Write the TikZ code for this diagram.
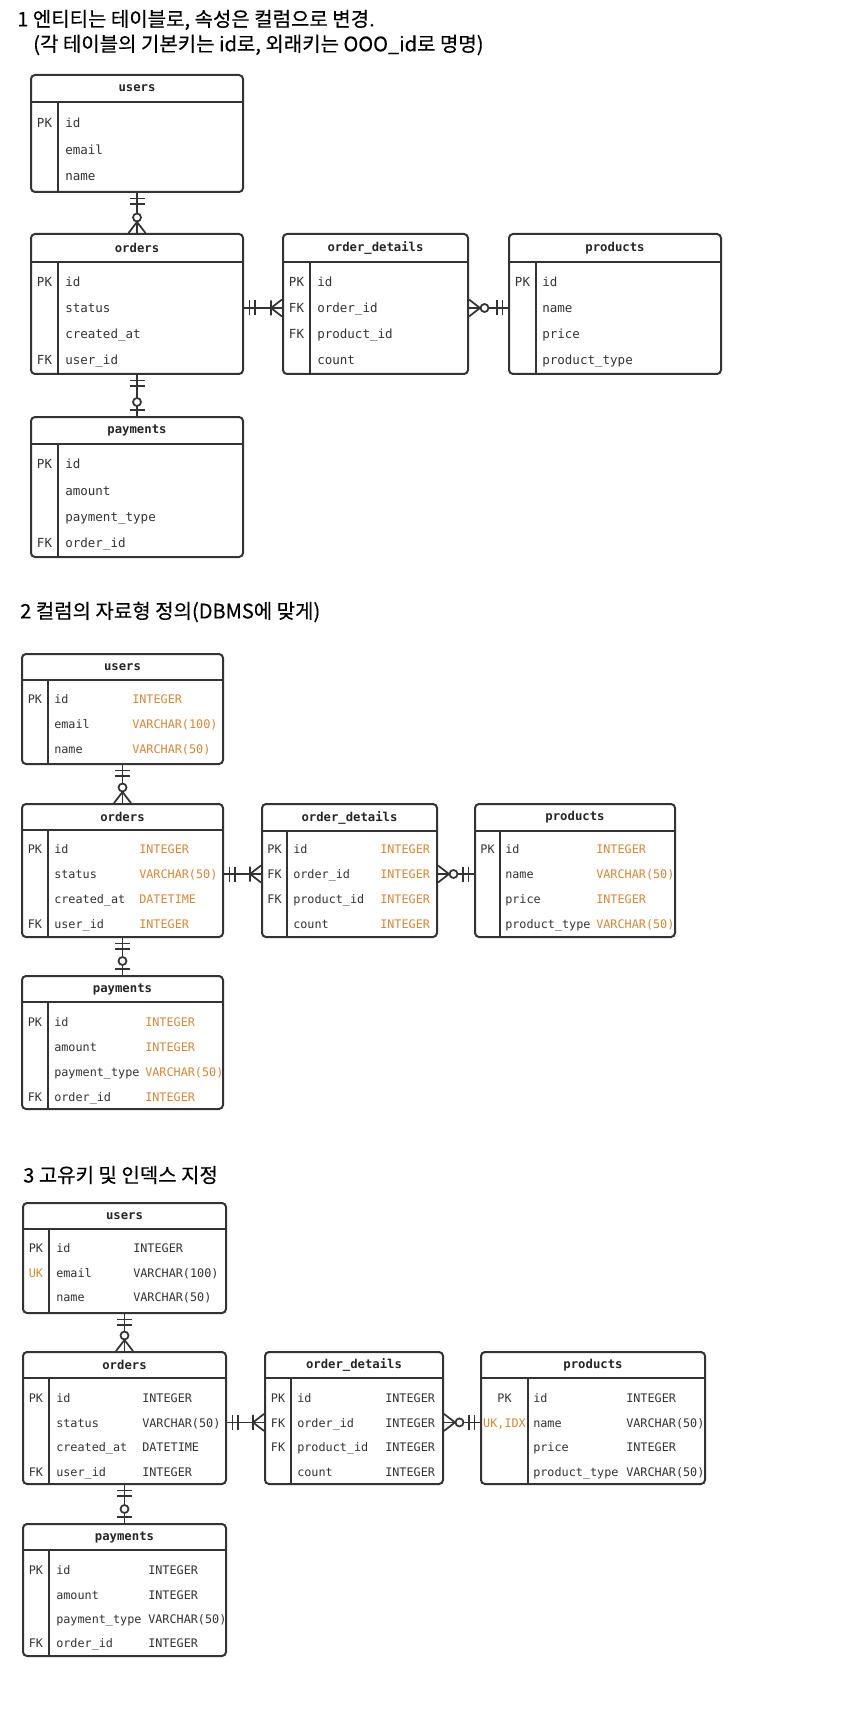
\documentclass[tikz,border=0pt]{standalone}
\usepackage{fontspec}
\setmonofont{DejaVu Sans Mono}
\newfontfamily\kofont[FakeBold=0.3]{Noto Sans CJK KR}
\usepackage{tikz}
\usetikzlibrary{fit}
\usetikzlibrary{decorations.markings}
\definecolor{linec}{HTML}{333333}
\definecolor{typc}{HTML}{D4883A}

\newcommand{\erbox}[8]{%
  \node[tbl, fit={(#2,#3) (#4,#5)}] (#1) {};
  \draw[tblline] (#2,#6) -- (#4,#6);
  \draw[tblline] (#7,#6) -- (#7,#5);
  \node[head] (#1-h) at ({(#2+#4)/2},{(#3+#6)/2}) {#8};
}
\newcommand{\mkone}{\draw[mk] (5.5,-7.5) -- (5.5,7.5) (11,-7.5) -- (11,7.5);}
\newcommand{\mkzeromany}{\draw[mk] (0,-8.5) -- (11,0) -- (0,8.5); \draw[mk, fill=white] (15.5,0) circle[radius=4];}
\newcommand{\mkonemany}{\draw[mk] (0,-8.5) -- (11,0) -- (0,8.5) (11,-7.5) -- (11,7.5);}
\newcommand{\mkzeroone}{\draw[mk] (6,-7.5) -- (6,7.5); \draw[mk, fill=white] (14,0) circle[radius=4];}

\begin{document}
\begin{tikzpicture}[x=0.75pt, y=-0.75pt,
        title/.style={anchor=west, inner sep=0, text=black, font=\kofont\fontsize{15}{18}\selectfont},
        tbl/.style={draw=linec, line width=1.5pt, rounded corners=3pt, inner sep=0},
        tblline/.style={draw=linec, line width=1.5pt},
        head/.style={inner sep=0, text=black!85, font=\ttfamily\bfseries\fontsize{9.2}{10}\selectfont},
        cell/.style={anchor=west, inner sep=0, text height=0.72em, text depth=0pt, text=linec, font=\ttfamily\fontsize{8.85}{10}\selectfont},
        big/.style={font=\ttfamily\fontsize{9.4}{11}\selectfont},
        key/.style={cell, anchor=center},
        typ/.style={cell, text=typc},
        mk/.style={draw=linec, line width=1.3pt},
        rel/.style 2 args={draw=linec, line width=1.3pt, postaction={decorate, decoration={markings,
            mark=at position 0 with {#1},
            mark=at position 1 with {\begin{scope}[xscale=-1]#2\end{scope}}}}}
    ]
    \useasboundingbox[fill=white] (0,0) rectangle (851,1722);

    % 1
    \node[title] (t1a) at (17,20) {1 엔티티는 테이블로, 속성은 컬럼으로 변경.};
    \node[title] (t1b) at (33,45) {(각 테이블의 기본키는 id로, 외래키는 OOO\_id로 명명)};

    \erbox{u1}{31}{75}{243}{192}{102}{58}{users}
    \foreach \k/\n [count=\i from 0] in {PK/id, /email, /name} {
        \node[key, big] (u1k\i) at (44.5,123+26.5*\i) {\k};
        \node[cell, big] (u1n\i) at (65,123+26.5*\i) {\n};
    }
    \erbox{o1}{31}{234}{243}{374}{262}{58}{orders}
    \foreach \k/\n [count=\i from 0] in {PK/id, /status, /created\_at, FK/user\_id} {
        \node[key, big] (o1k\i) at (44.5,282+26*\i) {\k};
        \node[cell, big] (o1n\i) at (65,282+26*\i) {\n};
    }
    \erbox{d1}{283}{234}{468}{374}{262}{310}{order\_details}
    \foreach \k/\n [count=\i from 0] in {PK/id, FK/order\_id, FK/product\_id, /count} {
        \node[key, big] (d1k\i) at (296.5,282+26*\i) {\k};
        \node[cell, big] (d1n\i) at (317,282+26*\i) {\n};
    }
    \erbox{p1}{509}{234}{721}{374}{262}{536}{products}
    \foreach \k/\n [count=\i from 0] in {PK/id, /name, /price, /product\_type} {
        \node[key, big] (p1k\i) at (522.5,282+26*\i) {\k};
        \node[cell, big] (p1n\i) at (542,282+26*\i) {\n};
    }
    \erbox{y1}{31}{417}{243}{557}{444}{58}{payments}
    \foreach \k/\n [count=\i from 0] in {PK/id, /amount, /payment\_type, FK/order\_id} {
        \node[key, big] (y1k\i) at (44.5,464+26.3*\i) {\k};
        \node[cell, big] (y1n\i) at (65,464+26.3*\i) {\n};
    }

    \draw[rel={\mkone}{\mkzeromany}] (u1.south) -- (o1.north);
    \draw[rel={\mkone}{\mkonemany}] (o1.east |- o1n1) -- (d1.west |- o1n1);
    \draw[rel={\mkzeromany}{\mkone}] (d1.east |- d1n1) -- (p1.west |- d1n1);
    \draw[rel={\mkone}{\mkzeroone}] (o1.south) -- (y1.north);

    % 2
    \node[title] (t2) at (20,612) {2 컬럼의 자료형 정의(DBMS에 맞게)};

    \erbox{u2}{22}{654}{223}{764}{680}{48}{users}
    \foreach \k/\n/\t [count=\i from 0] in {PK/id/INTEGER, /email/VARCHAR(100), /name/VARCHAR(50)} {
        \node[key] (u2k\i) at (35,699+25*\i) {\k};
        \node[cell] (u2n\i) at (54,699+25*\i) {\n};
        \node[typ] (u2t\i) at (132,699+25*\i) {\t};
    }
    \erbox{o2}{22}{804}{223}{937}{830}{48}{orders}
    \foreach \k/\n/\t [count=\i from 0] in {PK/id/INTEGER, /status/VARCHAR(50), /created\_at/DATETIME, FK/user\_id/INTEGER} {
        \node[key] (o2k\i) at (35,849+25*\i) {\k};
        \node[cell] (o2n\i) at (54,849+25*\i) {\n};
        \node[typ] (o2t\i) at (139,849+25*\i) {\t};
    }
    \erbox{d2}{262}{804}{437}{937}{831}{287}{order\_details}
    \foreach \k/\n/\t [count=\i from 0] in {PK/id/INTEGER, FK/order\_id/INTEGER, FK/product\_id/INTEGER, /count/INTEGER} {
        \node[key] (d2k\i) at (274.5,849+25*\i) {\k};
        \node[cell] (d2n\i) at (293,849+25*\i) {\n};
        \node[typ] (d2t\i) at (380,849+25*\i) {\t};
    }
    \erbox{p2}{475}{804}{675}{937}{831}{500}{products}
    \foreach \k/\n/\t [count=\i from 0] in {PK/id/INTEGER, /name/VARCHAR(50), /price/INTEGER, /product\_type/VARCHAR(50)} {
        \node[key] (p2k\i) at (487.5,849+25*\i) {\k};
        \node[cell] (p2n\i) at (505,849+25*\i) {\n};
        \node[typ] (p2t\i) at (596,849+25*\i) {\t};
    }
    \erbox{y2}{22}{976}{223}{1109}{1002}{48}{payments}
    \foreach \k/\n/\t [count=\i from 0] in {PK/id/INTEGER, /amount/INTEGER, /payment\_type/VARCHAR(50), FK/order\_id/INTEGER} {
        \node[key] (y2k\i) at (35,1022+24.8*\i) {\k};
        \node[cell] (y2n\i) at (54,1022+24.8*\i) {\n};
        \node[typ] (y2t\i) at (145,1022+24.8*\i) {\t};
    }

    \draw[rel={\mkone}{\mkzeromany}] (u2.south) -- (o2.north);
    \draw[rel={\mkone}{\mkonemany}] (o2.east |- o2n1) -- (d2.west |- o2n1);
    \draw[rel={\mkzeromany}{\mkone}] (d2.east |- d2n1) -- (p2.west |- d2n1);
    \draw[rel={\mkone}{\mkzeroone}] (o2.south) -- (y2.north);

    % 3
    \node[title] (t3) at (23,1175) {3 고유키 및 인덱스 지정};

    \erbox{u3}{23}{1203}{226}{1313}{1229}{49}{users}
    \foreach \k/\n/\t [count=\i from 0] in {PK/id/INTEGER, {\color{typc}UK}/email/VARCHAR(100), /name/VARCHAR(50)} {
        \node[key] (u3k\i) at (36,1248+24.5*\i) {\k};
        \node[cell] (u3n\i) at (56,1248+24.5*\i) {\n};
        \node[cell] (u3t\i) at (133,1248+24.5*\i) {\t};
    }
    \erbox{o3}{23}{1352}{226}{1484}{1378}{49}{orders}
    \foreach \k/\n/\t [count=\i from 0] in {PK/id/INTEGER, /status/VARCHAR(50), /created\_at/DATETIME, FK/user\_id/INTEGER} {
        \node[key] (o3k\i) at (36,1398+24.4*\i) {\k};
        \node[cell] (o3n\i) at (56,1398+24.4*\i) {\n};
        \node[cell] (o3t\i) at (142,1398+24.4*\i) {\t};
    }
    \erbox{d3}{265}{1352}{443}{1484}{1378}{291}{order\_details}
    \foreach \k/\n/\t [count=\i from 0] in {PK/id/INTEGER, FK/order\_id/INTEGER, FK/product\_id/INTEGER, /count/INTEGER} {
        \node[key] (d3k\i) at (278,1398+24.4*\i) {\k};
        \node[cell] (d3n\i) at (297,1398+24.4*\i) {\n};
        \node[cell] (d3t\i) at (385,1398+24.4*\i) {\t};
    }
    \erbox{p3}{481}{1352}{705}{1484}{1378}{528}{products}
    \foreach \k/\n/\t [count=\i from 0] in {PK/id/INTEGER, {\color{typc}UK,IDX}/name/VARCHAR(50), /price/INTEGER, /product\_type/VARCHAR(50)} {
        \node[key] (p3k\i) at (504.5,1398+24.4*\i) {\k};
        \node[cell] (p3n\i) at (533,1398+24.4*\i) {\n};
        \node[cell] (p3t\i) at (626,1398+24.4*\i) {\t};
    }
    \erbox{y3}{23}{1524}{226}{1656}{1550}{49}{payments}
    \foreach \k/\n/\t [count=\i from 0] in {PK/id/INTEGER, /amount/INTEGER, /payment\_type/VARCHAR(50), FK/order\_id/INTEGER} {
        \node[key] (y3k\i) at (36,1570+24.3*\i) {\k};
        \node[cell] (y3n\i) at (56,1570+24.3*\i) {\n};
        \node[cell] (y3t\i) at (148,1570+24.3*\i) {\t};
    }

    \draw[rel={\mkone}{\mkzeromany}] (u3.south) -- (o3.north);
    \draw[rel={\mkone}{\mkonemany}] (o3.east |- o3n1) -- (d3.west |- o3n1);
    \draw[rel={\mkzeromany}{\mkone}] (d3.east |- d3n1) -- (p3.west |- d3n1);
    \draw[rel={\mkone}{\mkzeroone}] (o3.south) -- (y3.north);
\end{tikzpicture}
\end{document}
